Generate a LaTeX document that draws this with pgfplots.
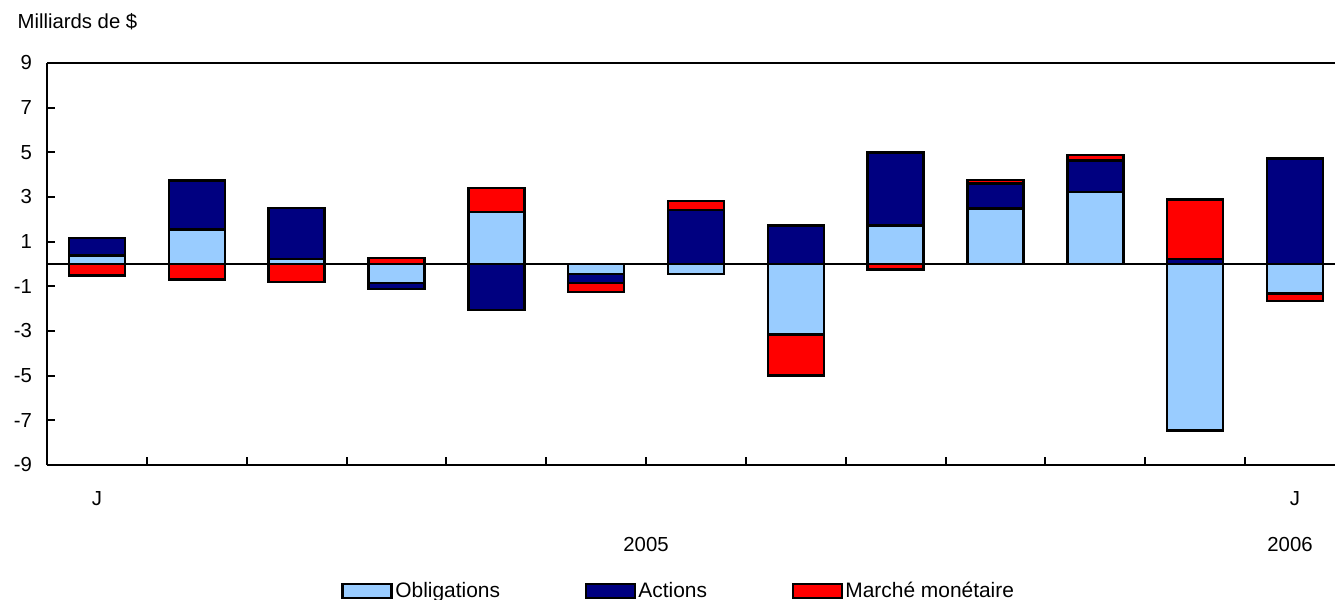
\documentclass[border=0pt]{standalone}
\usepackage{fontspec}
\setmainfont{Liberation Sans}
\usepackage{pgfplots}
\usepackage{pgfplotstable}
\pgfplotsset{compat=1.18}
\definecolor{oblig}{RGB}{153,204,255}
\definecolor{actions}{RGB}{0,0,128}
\definecolor{marche}{RGB}{255,0,0}

% Milliards de $, par mois (janv. 2005 a janv. 2006)
\pgfplotstableread{
x  O      A      M
0   0.38   0.79  -0.51
1   1.54   2.19  -0.69
2   0.21   2.31  -0.80
3  -0.85  -0.28   0.27
4   2.32  -2.05   1.09
5  -0.45  -0.40  -0.40
6  -0.45   2.41   0.42
7  -3.16   1.72  -1.83
8   1.72   3.27  -0.24
9   2.49   1.12   0.15
10  3.21   1.42   0.24
11 -7.46   0.21   2.67
12 -1.32   4.72  -0.35
}\data

\begin{document}
\fontsize{10.2}{12}\selectfont
\begin{tikzpicture}
\useasboundingbox (-23.5bp,-67.5bp) rectangle (644bp,232.5bp);
\begin{axis}[
    width=644bp, height=201bp, scale only axis,
    xmin=-0.5, xmax=12.4,
    ymin=-9, ymax=9,
    axis x line=box, axis y line=left,
    axis line style={-, line width=1bp},
    xtick={0.5,1.5,...,11.5}, xticklabels={},
    ytick={-9,-7,...,9},
    yticklabels={-9,-7,-5,-3,-1,1,3,5,7,9},
    yticklabel style={xshift=-4bp},
    xtick pos=left, ytick pos=left,
    tick align=inside,
    major tick length=4bp,
    tick style={black, line width=1bp},
    extra y ticks={0}, extra y tick labels={},
    extra y tick style={grid=major, major grid style={black, line width=1bp}, major tick length=0pt},
    legend image code/.code={\draw[#1] (0bp,-3.5bp) rectangle (24.5bp,3.5bp);},
    legend columns=3,
    legend style={at={(axis description cs:0.2283,-0.3134)}, anchor=west, draw=none,
        inner sep=0pt, nodes={inner sep=1.25bp}, font=\fontsize{10.5}{12}\selectfont,
        /tikz/every even column/.append style={column sep=41bp}},
    bars/.style={ybar, bar shift=0pt, bar width=28bp, draw=black, line width=1.2bp, forget plot},
]
% positifs : cumul
\addplot[bars, fill=marche] table[x=x, y expr={max(\thisrow{O},0)+max(\thisrow{A},0)+max(\thisrow{M},0)}] {\data};
\addplot[bars, fill=actions] table[x=x, y expr={max(\thisrow{O},0)+max(\thisrow{A},0)}] {\data};
\addplot[bars, fill=oblig] table[x=x, y expr={max(\thisrow{O},0)}] {\data};
% negatifs : cumul
\addplot[bars, fill=marche] table[x=x, y expr={min(\thisrow{O},0)+min(\thisrow{A},0)+min(\thisrow{M},0)}] {\data};
\addplot[bars, fill=actions] table[x=x, y expr={min(\thisrow{O},0)+min(\thisrow{A},0)}] {\data};
\addplot[bars, fill=oblig] table[x=x, y expr={min(\thisrow{O},0)}] {\data};

\addlegendimage{fill=oblig, draw=black, line width=1.2bp}
\addlegendentry{Obligations}
\addlegendimage{fill=actions, draw=black, line width=1.2bp}
\addlegendentry{Actions}
\addlegendimage{fill=marche, draw=black, line width=1.2bp}
\addlegendentry{Marché monétaire}
\end{axis}
\node[anchor=west] at (-18.3bp,221.5bp) {Milliards de \$};
\node at (25bp,-17bp) {J};
\node at (624bp,-17bp) {J};
\node at (299.5bp,-40bp) {2005};
\node at (621.5bp,-40bp) {2006};
\end{tikzpicture}
\end{document}
